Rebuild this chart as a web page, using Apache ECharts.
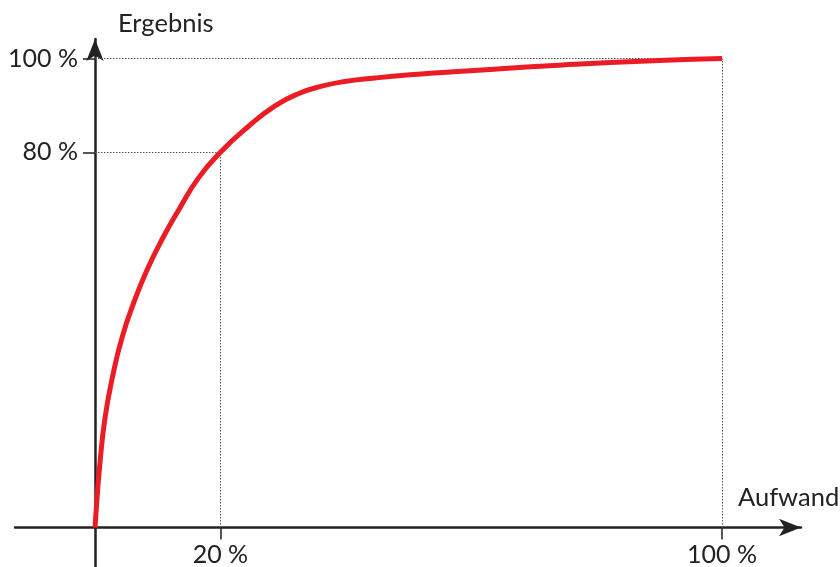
<!DOCTYPE html>
<html>
<head>
<meta charset="utf-8">
<script src="https://cdn.jsdelivr.net/npm/echarts@6/dist/echarts.min.js"></script>
<style>
  html, body { margin: 0; padding: 0; background: #fff; }
  #chart { width: 840px; height: 567px; }
</style>
</head>
<body>
<div id="chart"></div>
<script>
var aufwand = [0, 0.27, 0.69, 1.55, 2.82, 4.31, 6.17, 8.29, 10.64, 13.56, 16.48, 20, 24.45, 28.71, 32.42, 36.16, 39.6, 44.66, 49.76, 56.62, 63, 74.64, 88.04, 100];
var ergebnis = [0, 5.22, 12.26, 22.92, 32.3, 40.5, 47.9, 54.9, 61.3, 68.2, 74.5, 80, 85.5, 89.9, 92.5, 94.1, 95.05, 95.84, 96.48, 97.12, 97.68, 98.61, 99.47, 100];
var xTicks = [20, 100];
var yTicks = [80, 100];
var xName = 'Aufwand';
var yName = 'Ergebnis';

var chart = echarts.init(document.getElementById('chart'));
var fontFamily = 'Lato';
var axisColor = '#222';
var dotStyle = { type: [1.5, 1.5], color: '#555', width: 1 };

var curve = aufwand.map(function (x, i) { return [x, ergebnis[i]]; });

var option = {
  animation: false,
  grid: { left: 15, right: 39, top: 39, bottom: 0, containLabel: false, outerBoundsMode: 'none' },
  xAxis: {
    type: 'value',
    min: -12.76,
    max: 112.6,
    splitLine: { show: false },
    axisLine: {
      onZero: true,
      symbol: ['none', 'arrow'],
      symbolSize: [13, 22],
      lineStyle: { color: axisColor, width: 2.5 }
    },
    axisTick: { show: true, customValues: xTicks, length: 12, lineStyle: { color: axisColor, width: 1.5 } },
    axisLabel: {
      customValues: xTicks,
      formatter: '{value} %',
      margin: -25,
      color: axisColor,
      fontSize: 25,
      fontFamily: fontFamily
    }
  },
  yAxis: {
    type: 'value',
    min: -8.42,
    max: 104.16,
    splitLine: { show: false },
    axisLine: {
      onZero: true,
      symbol: ['none', 'arrow'],
      symbolSize: [13, 22],
      lineStyle: { color: axisColor, width: 2.5 }
    },
    axisTick: { show: true, customValues: yTicks, length: 12, lineStyle: { color: axisColor, width: 1.5 } },
    axisLabel: {
      customValues: yTicks,
      formatter: '{value} %',
      margin: -63,
      color: axisColor,
      fontSize: 25,
      fontFamily: fontFamily
    }
  },
  graphic: [
    { type: 'text', left: 118, top: 11, style: { text: yName, fontSize: 25.5, fontFamily: fontFamily, fill: axisColor } },
    { type: 'text', left: 738, top: 485, style: { text: xName, fontSize: 25.5, fontFamily: fontFamily, fill: axisColor } }
  ],
  series: [{
    type: 'line',
    data: curve,
    smooth: 0.5,
    showSymbol: false,
    lineStyle: { color: '#ec1c24', width: 5 },
    z: 5,
    markLine: {
      silent: true,
      symbol: 'none',
      label: { show: false },
      lineStyle: dotStyle,
      data: [
        [{ coord: [0, yTicks[1]] }, { coord: [xTicks[1], yTicks[1]] }],
        [{ coord: [xTicks[1], 0] }, { coord: [xTicks[1], yTicks[1]] }],
        [{ coord: [0, yTicks[0]] }, { coord: [xTicks[0], yTicks[0]] }],
        [{ coord: [xTicks[0], 0] }, { coord: [xTicks[0], yTicks[0]] }]
      ]
    }
  }]
};
chart.setOption(option, true);
</script>
</body>
</html>
